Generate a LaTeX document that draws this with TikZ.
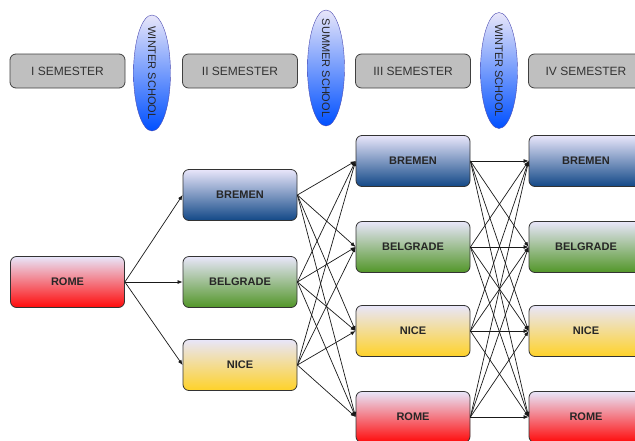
\documentclass[tikz,border=0pt]{standalone}
\usepackage{fontspec}
\setmainfont{Liberation Sans}
\usetikzlibrary{shapes.geometric,arrows.meta}

\definecolor{lav}{RGB}{232,230,250}
\definecolor{bremencol}{RGB}{18,72,135}
\definecolor{belgradecol}{RGB}{82,150,40}
\definecolor{nicecol}{RGB}{255,210,40}
\definecolor{romecol}{RGB}{255,10,10}
\definecolor{schoolcol}{RGB}{0,80,255}

\tikzset{
  city/.style={draw=black!80, line width=0.8pt, rounded corners=6pt, minimum width=114pt,
    minimum height=51pt, top color=lav, font=\fontsize{11}{13}\selectfont\bfseries, text=black!85},
  semester/.style={draw=black!75, line width=0.8pt, fill=gray!50, rounded corners=6pt,
    minimum width=115pt, minimum height=34pt, font=\fontsize{12}{14}\selectfont, text=black!80},
  school/.style={ellipse, draw=blue!40!gray, top color=lav, bottom color=schoolcol,
    minimum width=37pt, minimum height=116pt, inner sep=0pt},
  schooltext/.style={rotate=-90, font=\fontsize{11}{13}\selectfont, text=black!85},
  link/.style={-{Latex[length=5pt,width=4pt]}, black!90, line width=0.7pt}
}

\begin{document}
\begin{tikzpicture}[x=1pt, y=-1pt]
            \useasboundingbox (0,0) rectangle (635,440);
            % semesters and schools
            \node[semester] (sem1) at (67.5,71) {I SEMESTER};
            \node[semester] (sem2) at (240,71) {II SEMESTER};
            \node[semester] (sem3) at (413,71) {III SEMESTER};
            \node[semester] (sem4) at (586,71) {IV SEMESTER};
            \node[school] (school1) at (152,73) {};
            \node[schooltext] (school1text) at (school1) {WINTER SCHOOL};
            \node[school] (school2) at (326,68) {};
            \node[schooltext] (school2text) at (school2) {SUMMER SCHOOL};
            \node[school] (school3) at (499,70.5) {};
            \node[schooltext] (school3text) at (school3) {WINTER SCHOOL};
            % cities
            \node[city, bottom color=romecol] (rome1) at (67.5,282) {ROME};
            \node[city, bottom color=bremencol] (bremen2) at (240,195) {BREMEN};
            \node[city, bottom color=belgradecol] (belgrade2) at (240,282) {BELGRADE};
            \node[city, bottom color=nicecol] (nice2) at (240,365) {NICE};
            \foreach \col/\x in {3/413, 4/586} {
                \node[city, bottom color=bremencol] (bremen\col) at (\x,161) {BREMEN};
                \node[city, bottom color=belgradecol] (belgrade\col) at (\x,247) {BELGRADE};
                \node[city, bottom color=nicecol] (nice\col) at (\x,331) {NICE};
                \node[city, bottom color=romecol] (rome\col) at (\x,417) {ROME};
            }
            % links
            \draw[link] (rome1.east) -- (bremen2.west);
            \draw[link] (rome1.east) -- (belgrade2.west);
            \draw[link] (rome1.east) -- (nice2.west);
            \foreach \a in {bremen,belgrade,nice}
                \foreach \b in {bremen,belgrade,nice,rome}
                    \draw[link] (\a2.east) -- (\b3.west);
            \foreach \a in {bremen,belgrade,nice,rome}
                \foreach \b in {bremen,belgrade,nice,rome}
                    \draw[link] (\a3.east) -- (\b4.west);
        \end{tikzpicture}
\end{document}
